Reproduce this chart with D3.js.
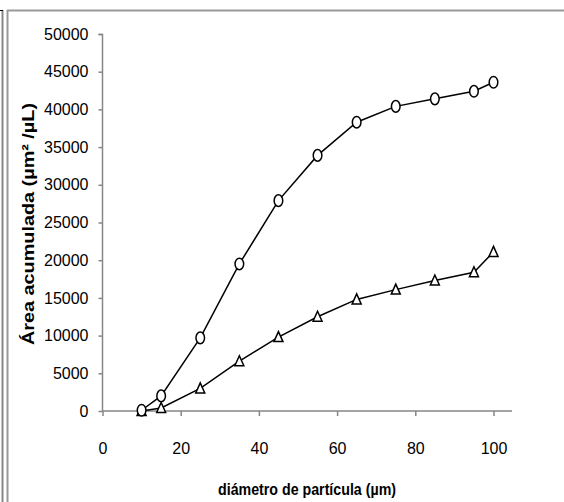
<!DOCTYPE html>
<html>
<head>
<meta charset="utf-8">
<script src="https://cdn.jsdelivr.net/npm/d3@7"></script>
<style>
  body { margin: 0; background: #fff; }
  svg { display: block; }
</style>
</head>
<body>
<svg id="chart" width="564" height="502"></svg>
<script>
// diámetros medidos (µm)
const diametros = [10, 15, 25, 35, 45, 55, 65, 75, 85, 95, 100];
// serie con círculos
const areaCirculos = [100, 2000, 9700, 19500, 27900, 33900, 38300, 40400, 41400, 42400, 43600];
// serie con triángulos
const areaTriangulos = [0, 400, 3000, 6600, 9800, 12500, 14800, 16100, 17300, 18400, 21100];
const xTicks = [0, 20, 40, 60, 80, 100];
const yTicks = [0, 5000, 10000, 15000, 20000, 25000, 30000, 35000, 40000, 45000, 50000];

const svg = d3.select("#chart");
const font = "'Liberation Sans', Arial, sans-serif";

// marcos
svg.append("line").attr("x1", 2.5).attr("x2", 2.5).attr("y1", 10).attr("y2", 502)
  .attr("stroke", "#888").attr("stroke-width", 2);
svg.append("line").attr("x1", 0).attr("x2", 3).attr("y1", 10.5).attr("y2", 10.5)
  .attr("stroke", "#000").attr("stroke-width", 1);
svg.append("line").attr("x1", 7.5).attr("x2", 7.5).attr("y1", 10).attr("y2", 502)
  .attr("stroke", "#999").attr("stroke-width", 2);
svg.append("line").attr("x1", 7).attr("x2", 564).attr("y1", 10.5).attr("y2", 10.5)
  .attr("stroke", "#999").attr("stroke-width", 2);

const x = d3.scaleLinear().domain([0, 100]).range([102.5, 493.5]);
const y = d3.scaleLinear().domain([0, 50000]).range([411, 34]);

// eje y
const gy = svg.append("g").attr("transform", "translate(102.5,0)")
  .call(d3.axisLeft(y).tickValues(yTicks).tickSize(4).tickPadding(10).tickFormat(d3.format("d")));
// eje x
const gx = svg.append("g").attr("transform", "translate(0,411)")
  .call(d3.axisBottom(x).tickValues(xTicks).tickSize(5).tickPadding(27).tickSizeOuter(0));
gx.select(".domain").attr("d", "M102.5,0H512");
gy.select(".domain").attr("d", "M-4,34.5H0V411");

svg.selectAll(".domain, .tick line").attr("stroke", "#868686").attr("stroke-width", 1.5);
svg.selectAll(".tick text").attr("font-family", font).attr("font-size", 16).attr("fill", "#000");

// títulos
svg.append("text").attr("x", 218).attr("y", 495)
  .attr("font-family", font).attr("font-size", 17).attr("font-weight", "bold")
  .attr("textLength", 178).attr("lengthAdjust", "spacingAndGlyphs")
  .text("diámetro de partícula  (µm)");
svg.append("text").attr("transform", "translate(34,345) rotate(-90)")
  .attr("font-family", font).attr("font-size", 17).attr("font-weight", "bold")
  .attr("textLength", 242).attr("lengthAdjust", "spacingAndGlyphs")
  .text("Área acumulada  (µm² /µL)");

const line = d3.line().x(d => x(d[0])).y(d => y(d[1]));
const circ = diametros.map((d, i) => [d, areaCirculos[i]]);
const tri = diametros.map((d, i) => [d, areaTriangulos[i]]);

[circ, tri].forEach(s => {
  svg.append("path").datum(s).attr("d", line)
    .attr("fill", "none").attr("stroke", "#000").attr("stroke-width", 1.5);
});

svg.selectAll(".tri").data(tri).enter().append("path").attr("class", "tri")
  .attr("transform", d => `translate(${x(d[0])},${y(d[1])})`)
  .attr("d", "M0,-5.5L4.5,4.5H-4.5Z")
  .attr("fill", "#fff").attr("stroke", "#000").attr("stroke-width", 1.5);

svg.selectAll(".circ").data(circ).enter().append("ellipse").attr("class", "circ")
  .attr("cx", d => x(d[0])).attr("cy", d => y(d[1]))
  .attr("rx", 4.3).attr("ry", 5.8)
  .attr("fill", "#fff").attr("stroke", "#000").attr("stroke-width", 1.5);
</script>
</body>
</html>
